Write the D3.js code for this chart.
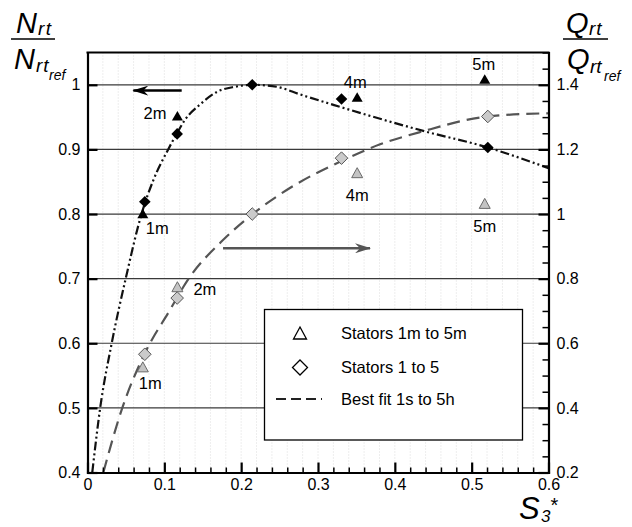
<!DOCTYPE html>
<html>
<head>
<meta charset="utf-8">
<script src="https://cdn.jsdelivr.net/npm/d3@7/dist/d3.min.js"></script>
<style>
  html, body { margin: 0; padding: 0; background: #fff; }
  svg { display: block; }
  text { font-family: "Liberation Sans", Arial, sans-serif; fill: #000; }
</style>
</head>
<body>
<svg id="chart" width="632" height="527"></svg>
<script>
// ---------------- data ----------------
const xTicks = [0, 0.1, 0.2, 0.3, 0.4, 0.5, 0.6];
const xTickLabels = ["0", "0.1", "0.2", "0.3", "0.4", "0.5", "0.6"];
const leftTicks = [0.4, 0.5, 0.6, 0.7, 0.8, 0.9, 1.0];
const leftTickLabels = ["0.4", "0.5", "0.6", "0.7", "0.8", "0.9", "1"];
const rightTicks = [0.2, 0.4, 0.6, 0.8, 1.0, 1.2, 1.4];
const rightTickLabels = ["0.2", "0.4", "0.6", "0.8", "1", "1.2", "1.4"];

// Stators 1m to 5m (triangles)
const statorsMLabels = ["1m", "2m", "4m", "5m"];
const statorsMS = [0.072, 0.117, 0.351, 0.517];
const statorsMN = [0.801, 0.952, 0.981, 1.009];   // left axis (black)
const statorsMQ = [0.527, 0.775, 1.128, 1.033];   // right axis (grey)

// Stators 1 to 5 (diamonds)
const statorsS = [0.0746, 0.1167, 0.2144, 0.3306, 0.521];
const statorsN = [0.819, 0.924, 1.0, 0.978, 0.903]; // left axis (black)
const statorsQ = [0.566, 0.740, 1.0, 1.173, 1.302]; // right axis (grey)

// Best fit curves
const fitNS = [0.0062, 0.0165, 0.0315, 0.0497, 0.0703, 0.0859, 0.105, 0.116, 0.127, 0.146, 0.170, 0.192, 0.215, 0.246, 0.277, 0.320, 0.439, 0.521, 0.600];
const fitNV = [0.400, 0.500, 0.600, 0.700, 0.800, 0.853, 0.900, 0.924, 0.946, 0.969, 0.990, 0.997, 1.000, 0.997, 0.985, 0.969, 0.928, 0.903, 0.871];
const fitQS = [0.0206, 0.0453, 0.074, 0.107, 0.131, 0.174, 0.215, 0.270, 0.3286, 0.380, 0.435, 0.521, 0.600];
const fitQV = [0.200, 0.400, 0.566, 0.702, 0.798, 0.914, 1.000, 1.090, 1.162, 1.215, 1.255, 1.302, 1.312];

// ---------------- layout ----------------
const svg = d3.select("#chart");
const X0 = 87.5, X1 = 548.5, Y0 = 472.5, Y1 = 52.5;
const x = d3.scaleLinear().domain([0, 0.6]).range([X0, X1]);
const yL = d3.scaleLinear().domain([0.4, 1.05]).range([Y0, Y1]);
const yR = d3.scaleLinear().domain([0.2, 1.5]).range([Y0, Y1]);

// faint dotted vertical grid
const minorX = d3.range(1, 30).map(i => i * 0.02);
svg.append("g").selectAll("line").data(minorX).join("line")
  .attr("x1", d => x(d)).attr("x2", d => x(d))
  .attr("y1", Y1).attr("y2", Y0)
  .attr("stroke", "#dcdcdc").attr("stroke-width", 1).attr("stroke-dasharray", "1,2");

// horizontal grid lines
svg.append("g").selectAll("line").data(leftTicks.slice(1)).join("line")
  .attr("x1", X0).attr("x2", X1)
  .attr("y1", d => yL(d)).attr("y2", d => yL(d))
  .attr("stroke", "#3a3a3a").attr("stroke-width", 1.2);

// ---------------- curves ----------------
const lineN = d3.line().x(d => x(d[0])).y(d => yL(d[1])).curve(d3.curveMonotoneX);
const lineQ = d3.line().x(d => x(d[0])).y(d => yR(d[1])).curve(d3.curveMonotoneX);
svg.append("clipPath").attr("id", "plotclip").append("rect")
  .attr("x", X0).attr("y", Y1).attr("width", X1 - X0).attr("height", Y0 - Y1);

svg.append("path").attr("clip-path", "url(#plotclip)")
  .attr("d", lineQ(d3.zip(fitQS, fitQV)))
  .attr("fill", "none").attr("stroke", "#555").attr("stroke-width", 2.2)
  .attr("stroke-dasharray", "13,7");
svg.append("path").attr("clip-path", "url(#plotclip)")
  .attr("d", lineN(d3.zip(fitNS, fitNV)))
  .attr("fill", "none").attr("stroke", "#111").attr("stroke-width", 2.2)
  .attr("stroke-dasharray", "9,3,2,3,2,3");

// ---------------- arrows ----------------
const defs = svg.append("defs");
function arrowHead(id, color) {
  defs.append("marker").attr("id", id).attr("viewBox", "0 0 16 10")
    .attr("refX", 15).attr("refY", 5).attr("markerWidth", 16).attr("markerHeight", 10)
    .attr("markerUnits", "userSpaceOnUse").attr("orient", "auto")
    .append("path").attr("d", "M0,0 L16,5 L0,10 L5,5 Z").attr("fill", color);
}
arrowHead("ahBlack", "#000");
arrowHead("ahGrey", "#555");
// black arrow points left (towards left axis), grey arrow points right
const arrowNFrom = [0.1226, 0.991], arrowNTo = [0.0597, 0.991];
const arrowQFrom = [0.1764, 0.894], arrowQTo = [0.3677, 0.894];
svg.append("line")
  .attr("x1", x(arrowNFrom[0])).attr("y1", yL(arrowNFrom[1]))
  .attr("x2", x(arrowNTo[0])).attr("y2", yL(arrowNTo[1]))
  .attr("stroke", "#000").attr("stroke-width", 2.5).attr("marker-end", "url(#ahBlack)");
svg.append("line")
  .attr("x1", x(arrowQFrom[0])).attr("y1", yR(arrowQFrom[1]))
  .attr("x2", x(arrowQTo[0])).attr("y2", yR(arrowQTo[1]))
  .attr("stroke", "#555").attr("stroke-width", 2.5).attr("marker-end", "url(#ahGrey)");

// ---------------- markers ----------------
function diamond(r) { return `M0,${-r} L${r},0 L0,${r} L${-r},0 Z`; }
function triangle(w, h) { return `M0,${-h / 2} L${w / 2},${h / 2} L${-w / 2},${h / 2} Z`; }

// grey (right axis) markers
svg.append("g").selectAll("path").data(d3.zip(statorsMS, statorsMQ)).join("path")
  .attr("transform", d => `translate(${x(d[0])},${yR(d[1])})`)
  .attr("d", triangle(11, 10)).attr("fill", "#c4c4c4").attr("stroke", "#6a6a6a").attr("stroke-width", 1);
svg.append("g").selectAll("path").data(d3.zip(statorsS, statorsQ)).join("path")
  .attr("transform", d => `translate(${x(d[0])},${yR(d[1])})`)
  .attr("d", diamond(6.3)).attr("fill", "#cacaca").attr("stroke", "#555").attr("stroke-width", 1);
// black (left axis) markers
svg.append("g").selectAll("path").data(d3.zip(statorsMS, statorsMN)).join("path")
  .attr("transform", d => `translate(${x(d[0])},${yL(d[1])})`)
  .attr("d", triangle(11, 9.5)).attr("fill", "#000");
svg.append("g").selectAll("path").data(d3.zip(statorsS, statorsN)).join("path")
  .attr("transform", d => `translate(${x(d[0])},${yL(d[1])})`)
  .attr("d", diamond(5.8)).attr("fill", "#000");

// ---------------- point labels ----------------
// offsets (px) of the label relative to the triangle: [dx, dy, anchor]
const labelOffN = [[3, 21, "start"], [-11, 3, "end"], [-2, -9, "middle"], [-1, -9, "middle"]];
const labelOffQ = [[-4, 22, "start"], [16, 8, "start"], [0, 28, "middle"], [0, 29, "middle"]];
const lg = svg.append("g").attr("font-size", 16.5);
statorsMLabels.forEach((t, i) => {
  lg.append("text").attr("x", x(statorsMS[i]) + labelOffN[i][0]).attr("y", yL(statorsMN[i]) + labelOffN[i][1])
    .attr("text-anchor", labelOffN[i][2]).text(t);
  lg.append("text").attr("x", x(statorsMS[i]) + labelOffQ[i][0]).attr("y", yR(statorsMQ[i]) + labelOffQ[i][1])
    .attr("text-anchor", labelOffQ[i][2]).text(t);
});

// ---------------- axes ----------------
function styleAxis(g) {
  g.select(".domain").attr("stroke", "#000").attr("stroke-width", 2.2);
  g.selectAll(".tick line").attr("stroke", "#000").attr("stroke-width", 2.2);
  g.selectAll(".tick text").attr("font-size", 16).attr("font-family", '"Liberation Sans", Arial, sans-serif');
}
// minor ticks
const minorBottom = d3.range(0, 31).map(i => i * 0.02).filter(v => Math.abs(v * 10 - Math.round(v * 10)) > 1e-6);
svg.append("g").attr("transform", `translate(0,${Y0})`)
  .call(d3.axisBottom(x).tickValues(minorBottom).tickSizeInner(-5).tickSizeOuter(0).tickFormat(""))
  .call(g => { g.select(".domain").remove(); g.selectAll(".tick line").attr("stroke", "#000").attr("stroke-width", 1.5); });
const minorRight = d3.range(0, 27).map(i => 0.2 + i * 0.05).filter(v => Math.abs(v * 5 - Math.round(v * 5)) > 1e-6 && v <= 1.5001);
svg.append("g").attr("transform", `translate(${X1},0)`)
  .call(d3.axisRight(yR).tickValues(minorRight).tickSizeInner(-6).tickSizeOuter(0).tickFormat(""))
  .call(g => { g.select(".domain").remove(); g.selectAll(".tick line").attr("stroke", "#000").attr("stroke-width", 1.5); });

svg.append("g").attr("transform", `translate(0,${Y0})`)
  .call(d3.axisBottom(x).tickValues(xTicks).tickSizeInner(-10).tickSizeOuter(0).tickPadding(6)
    .tickFormat((d, i) => xTickLabels[i]))
  .call(styleAxis);
svg.append("g").attr("transform", `translate(${X0},0)`)
  .call(d3.axisLeft(yL).tickValues(leftTicks).tickSizeInner(-10).tickSizeOuter(0).tickPadding(7)
    .tickFormat((d, i) => leftTickLabels[i]))
  .call(styleAxis);
svg.append("g").attr("transform", `translate(${X1},0)`)
  .call(d3.axisRight(yR).tickValues(rightTicks).tickSizeInner(-10).tickSizeOuter(0).tickPadding(8)
    .tickFormat((d, i) => rightTickLabels[i]))
  .call(styleAxis);
// top frame
svg.append("line").attr("x1", X0 - 1).attr("x2", X1 + 1).attr("y1", Y1).attr("y2", Y1)
  .attr("stroke", "#000").attr("stroke-width", 2.2);
svg.selectAll(".domain").attr("stroke-linecap", "square");

// ---------------- legend ----------------
const legend = svg.append("g");
legend.append("rect").attr("x", 264.5).attr("y", 309.5).attr("width", 258).attr("height", 130.5)
  .attr("fill", "#fff").attr("stroke", "#000").attr("stroke-width", 1.3);
legend.append("path").attr("transform", "translate(300,333)").attr("d", triangle(13, 12))
  .attr("fill", "#fff").attr("stroke", "#000").attr("stroke-width", 1.3);
legend.append("path").attr("transform", "translate(300,367.5)").attr("d", diamond(7.5))
  .attr("fill", "#fff").attr("stroke", "#000").attr("stroke-width", 1.3);
legend.append("line").attr("x1", 276).attr("x2", 322).attr("y1", 399).attr("y2", 399)
  .attr("stroke", "#222").attr("stroke-width", 1.8).attr("stroke-dasharray", "10,5");
const legendLabels = ["Stators 1m to 5m", "Stators 1 to 5", "Best fit 1s to 5h"];
legend.selectAll("text.lg").data(legendLabels).join("text").attr("class", "lg")
  .attr("x", 341).attr("y", (d, i) => [339, 373, 405][i]).attr("font-size", 16.5).text(d => d);

// ---------------- axis titles ----------------
const tt = svg.append("g").attr("font-style", "italic");
// N_rt / N_rt_ref (left)
tt.append("text").attr("x", 16).attr("y", 33).attr("font-size", 29).text("N");
tt.append("text").attr("x", 38).attr("y", 35).attr("font-size", 19).attr("letter-spacing", 1.5).text("rt");
svg.append("line").attr("x1", 11).attr("x2", 55).attr("y1", 39).attr("y2", 39).attr("stroke", "#000").attr("stroke-width", 1.6);
tt.append("text").attr("x", 14).attr("y", 69).attr("font-size", 29).text("N");
tt.append("text").attr("x", 36).attr("y", 72).attr("font-size", 19).attr("letter-spacing", 1).text("rt");
tt.append("text").attr("x", 49).attr("y", 80).attr("font-size", 14).text("ref");
// Q_rt / Q_rt_ref (right)
tt.append("text").attr("x", 566).attr("y", 33).attr("font-size", 29).text("Q");
tt.append("text").attr("x", 589).attr("y", 35).attr("font-size", 19).attr("letter-spacing", 1).text("rt");
svg.append("line").attr("x1", 563).attr("x2", 608).attr("y1", 39).attr("y2", 39).attr("stroke", "#000").attr("stroke-width", 1.6);
tt.append("text").attr("x", 567).attr("y", 69).attr("font-size", 29).text("Q");
tt.append("text").attr("x", 590).attr("y", 73).attr("font-size", 19).text("rt");
tt.append("text").attr("x", 604).attr("y", 81).attr("font-size", 14).text("ref");
// S*_3 (bottom)
tt.append("text").attr("x", 519).attr("y", 519).attr("font-size", 31).text("S");
tt.append("text").attr("x", 541).attr("y", 522).attr("font-size", 17).text("3");
tt.append("text").attr("x", 550.5).attr("y", 512).attr("font-size", 20).attr("font-style", "normal").text("*");
</script>
</body>
</html>
